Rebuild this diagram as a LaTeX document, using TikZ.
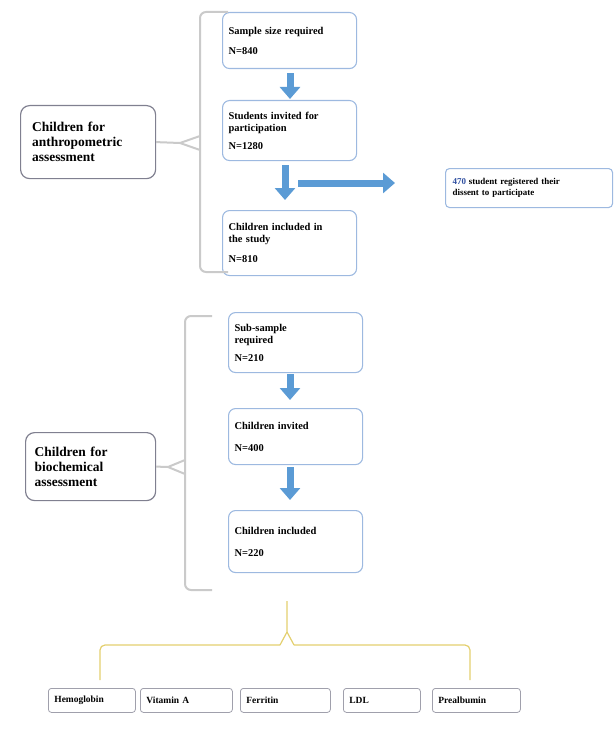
\documentclass[tikz,border=0pt]{standalone}
\usepackage{fontspec}
\setmainfont{Liberation Serif}
\usetikzlibrary{arrows.meta,positioning}
\definecolor{boxline}{HTML}{9DB9E0}
\definecolor{fatblue}{HTML}{5B9BD5}
\definecolor{bracegray}{HTML}{CACACA}
\definecolor{braceyellow}{HTML}{E3CF6E}
\definecolor{groupline}{HTML}{808090}
\definecolor{notenum}{HTML}{2F4FA0}
\hyphenpenalty=10000
\exhyphenpenalty=10000

\tikzset{
  stepbox/.style={draw=boxline, line width=1.1pt, rounded corners=7bp, anchor=north west,
    minimum width=134bp, text width=122bp, align=left, inner xsep=6bp, inner ysep=5bp,
    font=\bfseries\fontsize{10.5}{12}\selectfont},
  groupbox/.style={draw=groupline, line width=1.2pt, rounded corners=9bp, anchor=north west,
    text width=112bp, align=left, inner xsep=9bp, inner ysep=7bp,
    font=\bfseries\fontsize{13.5}{15}\selectfont},
  notebox/.style={draw=boxline, line width=1.1pt, rounded corners=4bp, anchor=north west,
    minimum width=167bp, minimum height=39bp, text width=153bp, align=left, inner xsep=7bp,
    font=\bfseries\fontsize{9}{10.5}\selectfont},
  testbox/.style={draw=groupline!75, line width=0.8pt, rounded corners=3bp, anchor=north west,
    minimum height=24bp, align=left, inner xsep=6bp, font=\bfseries\fontsize{9.5}{11}\selectfont},
  fatarrow/.style={fatblue, line width=7bp, -{Triangle[length=12bp,width=20bp]}},
  bracket/.style={bracegray, line width=2bp, rounded corners=6bp},
  yellowbrace/.style={braceyellow, line width=1.2bp, rounded corners=5bp},
}

\begin{document}
\begin{tikzpicture}[x=1bp,y=-1bp]
\useasboundingbox (0,0) rectangle (615,731);
%% anthropometric group
\node (size) at (222,12) [stepbox,minimum height=56bp] {Sample size required\\[8pt]N=840};
\node (invite) at (222,100) [stepbox,minimum height=60bp] {Students invited for participation\\[6pt]N=1280};
\node (incl) at (222,210) [stepbox,minimum height=65bp] {Children included in\\the study\\[8pt]N=810};
\node (note) at (445,168) [notebox] {{\color{notenum}470} student registered their\\dissent to participate};
\node (anthro) at (20,105) [groupbox,minimum height=73bp,minimum width=135bp] {Children for anthropometric assessment};
\draw [fatarrow,shorten <=4bp,shorten >=1bp] (size.south-|290,0) -- (invite.north-|290,0);
\draw [fatarrow,shorten <=4bp,shorten >=10bp] (invite.south-|285,0) -- (incl.north-|285,0);
\coordinate (split) at (298,183);
\draw [fatarrow,shorten >=50bp] (split) -- (note.west|-split);
% bracket
\coordinate (btop1) at (200,12);
\coordinate (bmid1) at (180,143);
\draw [bracket] (228,12) -- (btop1) -- (200,272) -- (228,272);
\draw [bracket,rounded corners=0pt] (anthro.east) -- (bmid1) -- (200,136);
\draw [bracket,rounded corners=0pt] (bmid1) -- (200,150);
%% biochemical group
\node (sub) at (228,312) [stepbox,minimum height=60bp] {Sub-sample\\required\\[6pt]N=210};
\node (binv) at (228,408) [stepbox,minimum height=56bp] {Children invited\\[10pt]N=400};
\node (binc) at (228,510) [stepbox,minimum height=62bp] {Children included\\[10pt]N=220};
\node (bio) at (25,432) [groupbox,minimum height=68bp,minimum width=127bp] {Children for biochemical assessment};
\draw [fatarrow,shorten <=1bp,shorten >=8bp] (sub.south-|290,0) -- (binv.north-|290,0);
\draw [fatarrow,shorten <=2bp,shorten >=10bp] (binv.south-|290,0) -- (binc.north-|290,0);
% bracket
\coordinate (bmid2) at (168,467);
\draw [bracket] (212,316) -- (185,316) -- (185,590) -- (212,590);
\draw [bracket,rounded corners=0pt] (bio.east) -- (bmid2) -- (185,460);
\draw [bracket,rounded corners=0pt] (bmid2) -- (185,474);
%% biochemical tests
\node (hb) at (48,688) [testbox,minimum width=87bp,text width=75bp] {Hemoglobin};
\node (vita) at (140,688) [testbox,minimum width=92bp,text width=80bp] {Vitamin A};
\node (ferr) at (240,688) [testbox,minimum width=90bp,text width=78bp] {Ferritin};
\node (ldl) at (343,688) [testbox,minimum width=77bp,text width=65bp] {LDL};
\node (pre) at (432,688) [testbox,minimum width=88bp,text width=76bp] {Prealbumin};
% brace
\coordinate (apex) at (287,645);
\draw [yellowbrace] (hb.north-|100,0) ++(0,-8) -- (100,645) -- (280,645);
\draw [yellowbrace] (pre.north-|470,0) ++(0,-8) -- (470,645) -- (294,645);
\draw [yellowbrace,rounded corners=0pt] (binc.south-|287,0) ++(0,28) -- (287,632) -- (280,645);
\draw [yellowbrace,rounded corners=0pt] (287,632) -- (294,645);
\end{tikzpicture}
\end{document}
